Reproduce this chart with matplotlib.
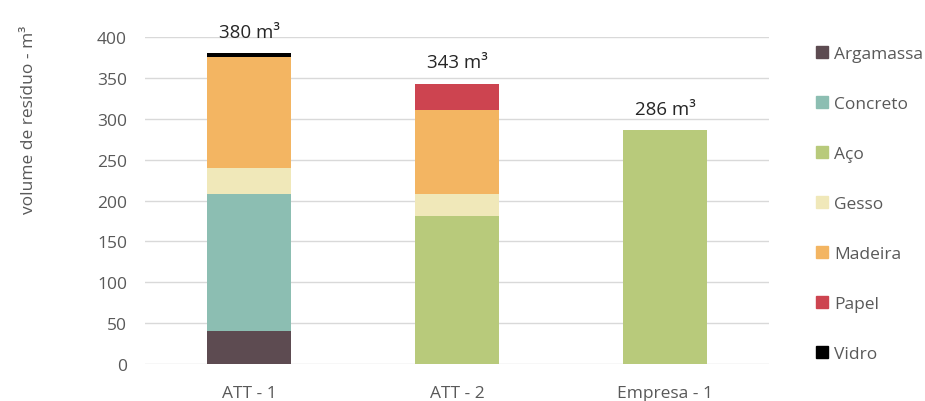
import numpy as np
import matplotlib
matplotlib.use('Agg')
import matplotlib.pyplot as plt
from matplotlib.patches import Patch

plt.rcParams['font.family'] = ['Open Sans', 'DejaVu Sans']

# dados
locais = ['ATT - 1', 'ATT - 2', 'Empresa - 1']
materiais = ['Argamassa', 'Concreto', 'Aço', 'Gesso', 'Madeira', 'Papel', 'Vidro']
argamassa = [40, 0, 0]
concreto = [168, 0, 0]
aco = [0, 181, 286]
gesso = [32, 27, 0]
madeira = [136, 103, 0]
papel = [0, 32, 0]
vidro = [4, 0, 0]
cores = ['#5D4B51', '#8CBEB2', '#B8CA7B', '#F0E8B9', '#F3B562', '#CD4450', '#000000']

series = [argamassa, concreto, aco, gesso, madeira, papel, vidro]

fig = plt.figure(figsize=(9.25, 4.02), dpi=100)
ax = fig.add_axes([145 / 925, 1 - 365 / 402, 624 / 925, 327 / 402])

x = np.arange(len(locais))
base = np.zeros(len(locais))
for nome, vals, cor in zip(materiais, series, cores):
    ax.bar(x, vals, 0.4, bottom=base, color=cor, label=nome, zorder=3)
    base += np.array(vals)

# totais acima das barras
for xi, tot in zip(x, base):
    ax.annotate(f'{tot:.0f} m³', (xi, tot), xytext=(0, 9), textcoords='offset points',
                ha='center', va='bottom', fontsize=13.5, color='#262626')

ax.set_xlim(-0.5, 2.5)
ax.set_ylim(0, 400)
ax.set_yticks(range(0, 401, 50))
ax.set_xticks(x)
ax.set_xticklabels(locais)
ax.tick_params(axis='both', length=0, labelsize=12.5, labelcolor='#595959')
ax.tick_params(axis='y', pad=13)
ax.tick_params(axis='x', pad=15)
ax.grid(axis='y', color='#D9D9D9', linewidth=1, zorder=0)
for s in ax.spines.values():
    s.set_visible(False)

fig.text(29 / 925, 1 - 120 / 402, 'volume de resíduo - m³', rotation=90,
         ha='center', va='center', fontsize=12.5, color='#595959')

handles = [Patch(color=c) for c in cores]
fig.legend(handles, materiais, loc='upper left', bbox_to_anchor=(800 / 925, 1 - 31 / 402),
           frameon=False, fontsize=12.5, labelcolor='#595959', handlelength=0.7,
           handleheight=0.7, handletextpad=0.35, labelspacing=1.95)

fig.savefig('out.png', dpi=100)
